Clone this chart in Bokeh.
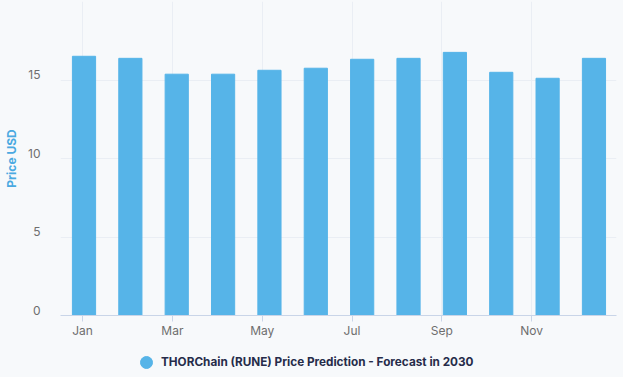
from bokeh.plotting import figure
from bokeh.models import FixedTicker, CustomJSTickFormatter, Legend, LegendItem, ColumnDataSource, Range1d
from bokeh.layouts import column
from bokeh.embed import file_html
from bokeh.resources import INLINE

months = ["Jan", "Feb", "Mar", "Apr", "May", "Jun", "Jul", "Aug", "Sep", "Oct", "Nov", "Dec"]
prices = [16.51, 16.38, 15.37, 15.37, 15.62, 15.75, 16.32, 16.38, 16.76, 15.49, 15.11, 16.38]
tick_labels = ["Jan", "Mar", "May", "Jul", "Sep", "Nov"]
y_ticks = [0, 5, 10, 15]
y_tick_labels = ["0", "5", "10", "15"]
series_name = "THORChain (RUNE) Price Prediction - Forecast in 2030"

BG = "#f7f9fb"
BAR = "#56b4e8"
FONT = "Inter"

p = figure(width=623, height=340, output_backend="svg", toolbar_location=None,
           x_range=Range1d(-0.507, 11.486), y_range=Range1d(0, 20),
           min_border_left=60, min_border_right=7, min_border_top=1, min_border_bottom=24)
p.background_fill_color = BG
p.border_fill_color = BG
p.outline_line_color = None

idx = list(range(len(months)))
src = ColumnDataSource(dict(x=idx, top=prices, m=months))
p.vbar(x="x", top="top", width=0.5, source=src, color=BAR)

# x ticks: chart's category axis ticks slightly compressed relative to bars
step = 1.937
xt = [-0.03 + step * k for k in range(len(tick_labels))]
p.xaxis.ticker = FixedTicker(ticks=xt)
p.xaxis.formatter = CustomJSTickFormatter(args=dict(labels=tick_labels), code="return labels[index] || '';")
p.xgrid.ticker = FixedTicker(ticks=xt)
p.xaxis.axis_line_color = "#c9d5e8"
p.xaxis.major_tick_line_color = "#c9d5e8"
p.xaxis.major_tick_out = 6
p.xaxis.major_tick_in = 0
p.xaxis.minor_tick_line_color = None
p.xaxis.major_label_text_font = FONT
p.xaxis.major_label_text_font_size = "12px"
p.xaxis.major_label_text_color = "#6e6e6e"
p.xaxis.major_label_standoff = 1

# y labels sit slightly above their grid lines in the reference
y_label_shift = 0.35
p.yaxis.ticker = FixedTicker(ticks=[t + y_label_shift for t in y_ticks])
p.yaxis.formatter = CustomJSTickFormatter(args=dict(labels=y_tick_labels), code="return labels[index] || '';")
p.ygrid.ticker = FixedTicker(ticks=y_ticks + [20])
p.yaxis.axis_line_color = None
p.yaxis.major_tick_line_color = None
p.yaxis.minor_tick_line_color = None
p.yaxis.major_tick_out = 0
p.yaxis.major_label_standoff = 20
p.yaxis.major_label_text_font = FONT
p.yaxis.major_label_text_font_size = "12px"
p.yaxis.major_label_text_color = "#6e6e6e"
p.yaxis.axis_label = "Price USD"
p.yaxis.axis_label_text_font = FONT
p.yaxis.axis_label_text_font_style = "bold"
p.yaxis.axis_label_text_font_size = "12px"
p.yaxis.axis_label_text_color = "#4aa9e1"
p.yaxis.axis_label_standoff = 6

p.xgrid.grid_line_color = "#eaeef4"
p.ygrid.grid_line_color = "#eaeef4"

# legend strip below the chart
p2 = figure(width=623, height=37, output_backend="svg", toolbar_location=None,
            x_axis_location=None, y_axis_location=None,
            min_border_left=60, min_border_right=7, min_border_top=0, min_border_bottom=0)
p2.background_fill_color = BG
p2.border_fill_color = BG
p2.outline_line_color = None
p2.xgrid.visible = False
p2.ygrid.visible = False
dummy = p2.scatter(x=[float("nan")], y=[float("nan")], size=12, color=BAR, marker="circle")
legend = Legend(items=[LegendItem(label=series_name, renderers=[dummy])],
                location=(71, 0), orientation="horizontal",
                background_fill_alpha=0, border_line_color=None,
                padding=0, margin=0, spacing=0,
                glyph_width=30, glyph_height=30, label_standoff=0,
                label_text_font=FONT, label_text_font_style="bold",
                label_text_font_size="11.75px", label_text_color="#262c4a")
p2.add_layout(legend, "center")

layout = column(p, p2, spacing=0, styles={"background-color": BG})
open("out.html", "w").write(file_html(layout, INLINE))
